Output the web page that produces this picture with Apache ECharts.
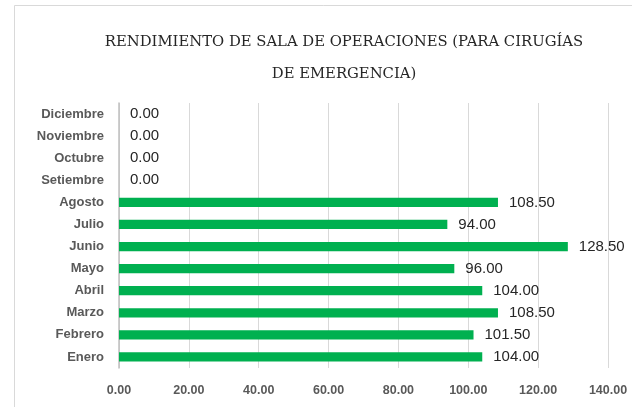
<!DOCTYPE html>
<html>
<head>
<meta charset="utf-8">
<script src="https://cdn.jsdelivr.net/npm/echarts@6/dist/echarts.min.js"></script>
<style>
	html, body { margin: 0; padding: 0; background: #fff; }
	#chart { width: 632px; height: 407px; }
</style>
</head>
<body>
<div id="chart"></div>
<script>
const meses = ['Enero', 'Febrero', 'Marzo', 'Abril', 'Mayo', 'Junio', 'Julio', 'Agosto', 'Setiembre', 'Octubre', 'Noviembre', 'Diciembre']
const rendimiento = [104.0, 101.5, 108.5, 104.0, 96.0, 128.5, 94.0, 108.5, 0, 0, 0, 0]
const tituloLineas = ['RENDIMIENTO DE SALA DE OPERACIONES (PARA CIRUGÍAS', 'DE EMERGENCIA)']

chartMain = () => {
	var chart = echarts.init(document.getElementById('chart'))

	const option = {
		backgroundColor: '#fff',
		animation: false,
		title: {
			text: tituloLineas.join('\n'),
			left: 339,
			textAlign: 'center',
			top: 21,
			textStyle: {
				fontFamily: 'DejaVu Serif',
				fontSize: 14.8,
				fontWeight: 'normal',
				color: '#262626',
				lineHeight: 32,
			},
		},
		// outer border of the chart area
		graphic: [
			{
				type: 'rect',
				shape: { x: 14.5, y: 5.5, width: 700, height: 500 },
				style: { fill: 'none', stroke: '#d9d9d9', lineWidth: 1 },
				silent: true,
				z: -1,
			},
		],
		grid: {
			left: 119,
			right: 24,
			top: 103,
			bottom: 39,
		},
		xAxis: {
			type: 'value',
			min: 0,
			max: 140,
			interval: 20,
			axisLine: { show: false },
			axisTick: { show: false },
			splitLine: { lineStyle: { color: '#d9d9d9', width: 1 } },
			axisLabel: {
				margin: 16,
				fontFamily: 'Liberation Sans',
				fontWeight: 'bold',
				fontSize: 12.5,
				color: '#595959',
				formatter: (v) => v.toFixed(2),
			},
		},
		yAxis: {
			type: 'category',
			data: meses,
			axisLine: { show: true, lineStyle: { color: '#bfbfbf', width: 1.5 } },
			axisTick: { show: false },
			axisLabel: {
				margin: 15,
				fontFamily: 'Liberation Sans',
				fontWeight: 'bold',
				fontSize: 13,
				color: '#595959',
			},
		},
		series: [
			{
				type: 'bar',
				data: rendimiento,
				barWidth: '42%',
				itemStyle: { color: '#00b050' },
				label: {
					show: true,
					position: 'right',
					distance: 11,
					fontFamily: 'Liberation Sans',
					fontSize: 15,
					color: '#262626',
					formatter: (p) => p.value.toFixed(2),
				},
			},
		],
	}

	chart.setOption(option)
}

chartMain()
</script>
</body>
</html>
